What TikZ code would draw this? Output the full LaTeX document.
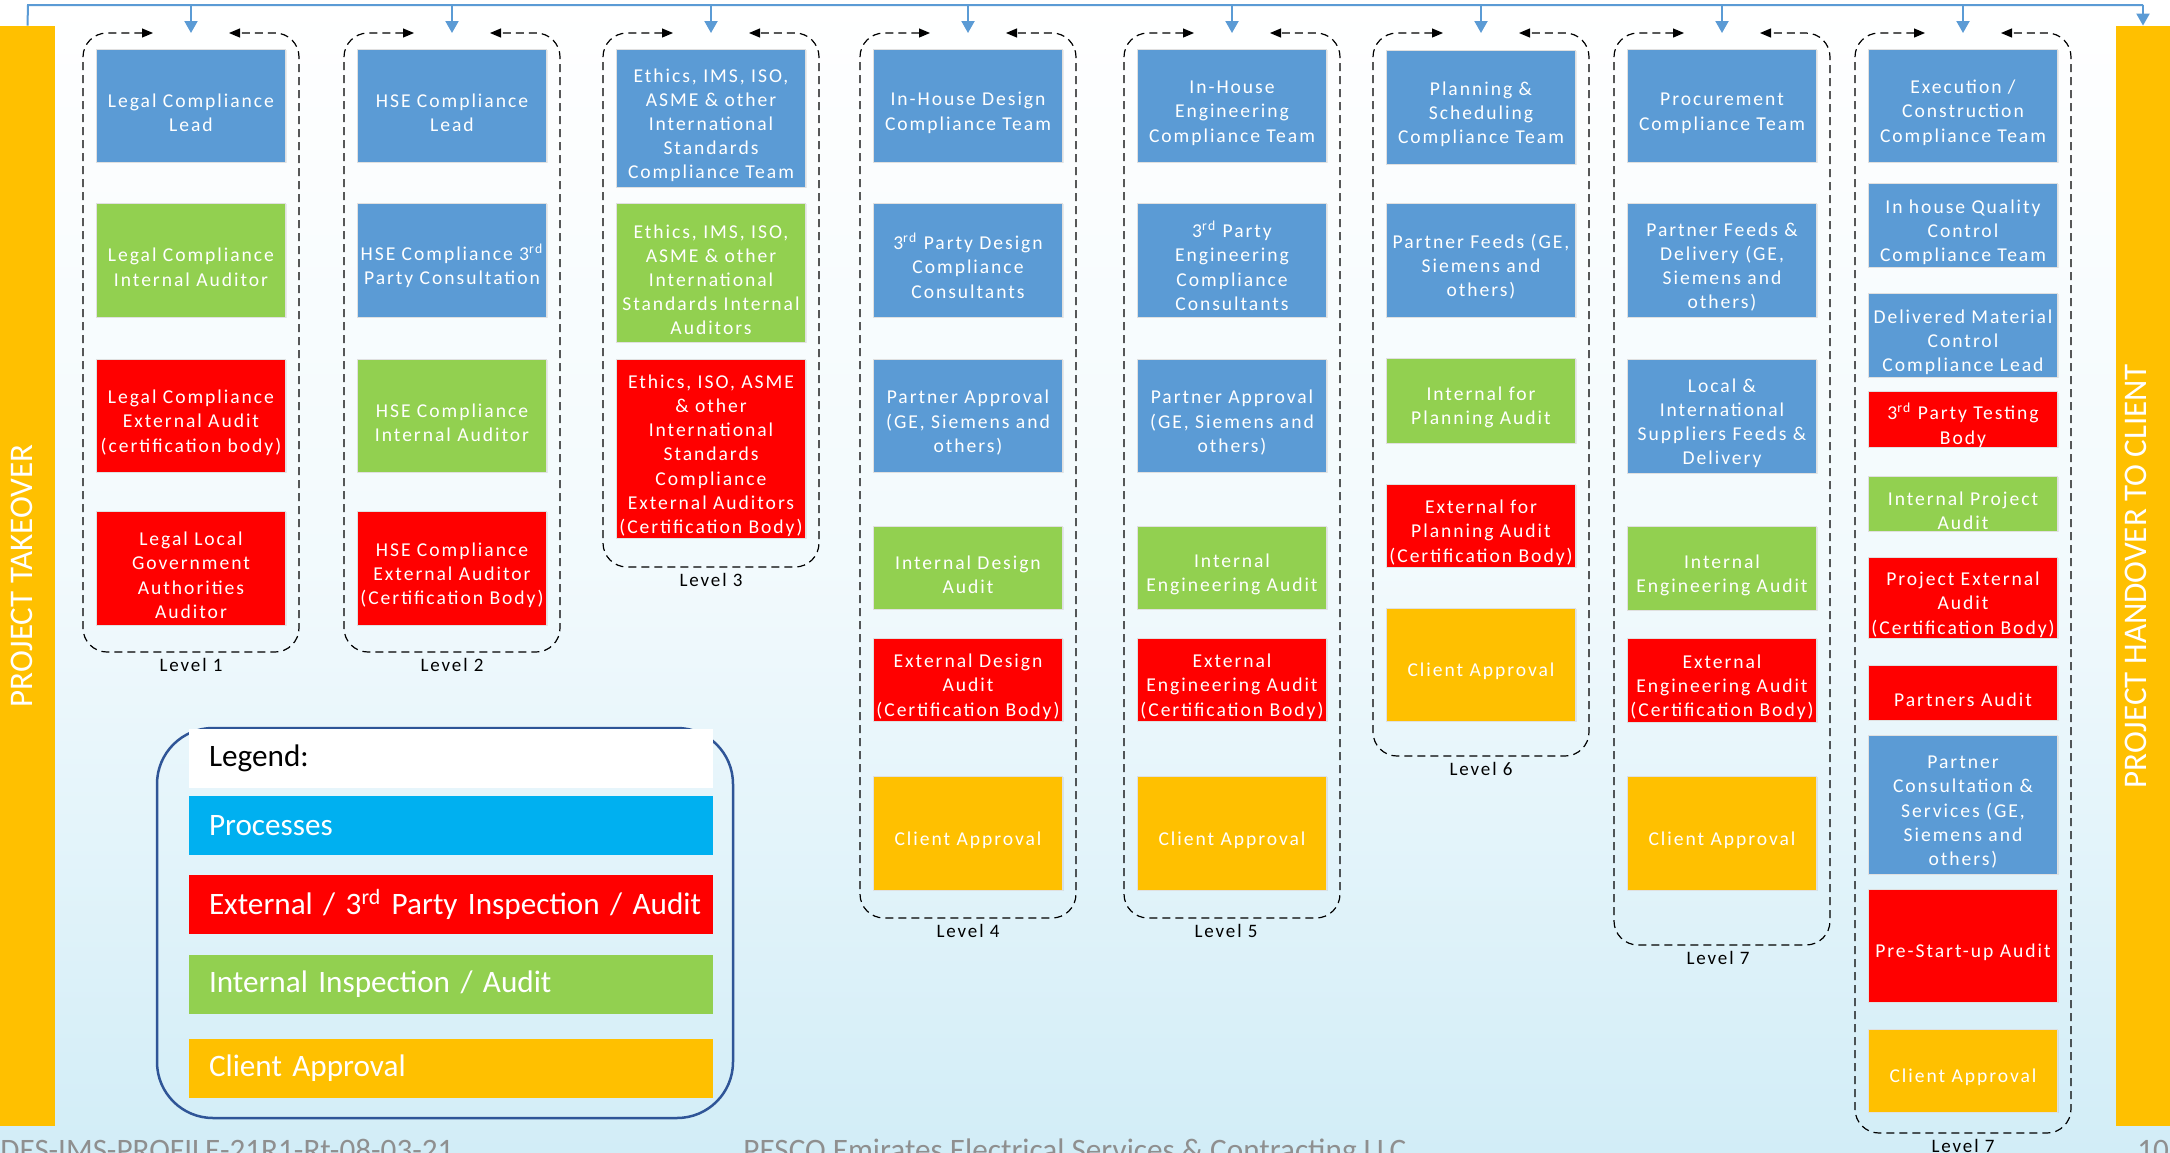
\documentclass[tikz,border=0pt]{standalone}
\usepackage{fontspec}
\setmainfont{Carlito}
\newfontfamily\boxfont[LetterSpace=10]{Carlito}
\usetikzlibrary{arrows.meta, positioning, shadows}

\definecolor{procblue}{HTML}{5B9BD5}
\definecolor{intgreen}{HTML}{92D050}
\definecolor{extred}{HTML}{FF0000}
\definecolor{clientyel}{HTML}{FFC000}
\definecolor{legcyan}{HTML}{00B0F0}
\definecolor{legframe}{HTML}{2F5597}
\definecolor{bgblue}{HTML}{D2EDF7}
\definecolor{footgrey}{HTML}{8F8F8F}

% first line of a box sits a little low, as in the slides
\newcommand{\lowline}{\rule{0pt}{14pt}}

\tikzstyle{task} = [draw=black!12, line width=0.5pt, text=white, align=center, inner sep=0pt, minimum width=94.5pt, font={\boxfont\fontsize{9.8}{12.1}\selectfont}, drop shadow={shadow xshift=0.6pt, shadow yshift=-0.6pt, opacity=0.15}]
\tikzstyle{proc} = [task, fill=procblue]
\tikzstyle{intaud} = [task, fill=intgreen]
\tikzstyle{extaud} = [task, fill=extred]
\tikzstyle{client} = [task, fill=clientyel]
\tikzstyle{frame} = [dash pattern=on 4pt off 2.5pt, line width=0.6pt, rounded corners=12pt, <->, >={Triangle[width=4.5pt,length=5.5pt]}]
\tikzstyle{feed} = [draw=procblue, line width=1pt]
\tikzstyle{feedarrow} = [feed, -{Triangle[width=6.5pt,length=6pt]}]
\tikzstyle{levlabel} = [inner sep=0pt, font={\boxfont\fontsize{9.5}{11.7}\selectfont}]
\tikzstyle{bar} = [fill=clientyel, inner sep=0pt, minimum width=27.5pt, minimum height=550pt]
\tikzstyle{bartext} = [rotate=90, text=white, inner sep=0pt, font={\fontsize{16.5}{19}\selectfont}]
\tikzstyle{legrow} = [text=white, align=left, text width=262pt, inner sep=0pt, minimum height=29.5pt, font={\fontsize{15.6}{18}\selectfont}, execute at begin node={\hspace*{10pt}}]
\tikzstyle{footer} = [text=footgrey, inner sep=0pt, anchor=base west, font={\fontsize{15.6}{18}\selectfont}]

\begin{document}
\begin{tikzpicture}[x=0.5pt, y=-0.5pt]

   % fix the page size
   \useasboundingbox (0,0) rectangle (2170,1152);
   \shade[top color=white, bottom color=bgblue, middle color=white!70!bgblue] (0,0) rectangle (2170,1152);

   % start and end bars
   \node[bar] (takeover) at (27.5,576) {};
   \node[bartext] (takeovertxt) at (22,576) {PROJECT TAKEOVER};
   \node[bar] (handover) at (2143,576) {};
   \node[bartext] (handovertxt) at (2136,576) {PROJECT HANDOVER TO CLIENT};

   % feed line across the top
   \coordinate (busL) at (28,5);
   \coordinate (busR) at (2143,5);
   \draw[feed] (takeover.north) -- (busL) -- (busR);
   \draw[feedarrow] (busR) -- (handover.north);

   % entry points of the levels
   \coordinate (in1) at (191,33);
   \coordinate (in2) at (452,33);
   \coordinate (in3) at (711,33);
   \coordinate (in4) at (968,33);
   \coordinate (in5) at (1232,33);
   \coordinate (in6) at (1481,33);
   \coordinate (in7) at (1722,33);
   \coordinate (in8) at (1963,33);
   \draw[feedarrow] (in1 |- busL) -- (in1);
   \draw[feedarrow] (in2 |- busL) -- (in2);
   \draw[feedarrow] (in3 |- busL) -- (in3);
   \draw[feedarrow] (in4 |- busL) -- (in4);
   \draw[feedarrow] (in5 |- busL) -- (in5);
   \draw[feedarrow] (in6 |- busL) -- (in6);
   \draw[feedarrow] (in7 |- busL) -- (in7);
   \draw[feedarrow] (in8 |- busL) -- (in8);

   % dashed level frames
   \draw[frame] (153,33) -- (83,33) -- (83,652) -- (299,652) -- (299,33) -- (229,33);
   \draw[frame] (414,33) -- (344,33) -- (344,652) -- (560,652) -- (560,33) -- (490,33);
   \draw[frame] (673,33) -- (603,33) -- (603,567) -- (819,567) -- (819,33) -- (749,33);
   \draw[frame] (930,33) -- (860,33) -- (860,918) -- (1076,918) -- (1076,33) -- (1006,33);
   \draw[frame] (1194,33) -- (1124,33) -- (1124,918) -- (1340,918) -- (1340,33) -- (1270,33);
   \draw[frame] (1443,33) -- (1373,33) -- (1373,756) -- (1589,756) -- (1589,33) -- (1519,33);
   \draw[frame] (1684,33) -- (1614,33) -- (1614,945) -- (1830,945) -- (1830,33) -- (1760,33);
   \draw[frame] (1925,33) -- (1855,33) -- (1855,1133) -- (2071,1133) -- (2071,33) -- (2001,33);

   % level names
   \node[levlabel] (lev1) at (191,665) {Level 1};
   \node[levlabel] (lev2) at (452,665) {Level 2};
   \node[levlabel] (lev3) at (711,580) {Level 3};
   \node[levlabel] (lev4) at (968,931) {Level 4};
   \node[levlabel] (lev5) at (1226,931) {Level 5};
   \node[levlabel] (lev6) at (1481,769) {Level 6};
   \node[levlabel] (lev7) at (1718,958) {Level 7};
   \node[levlabel] (lev8) at (1963,1146) {Level 7};

   % Level 1
   \node[proc, minimum height=56.5pt] (l1a) at (191,105.5) {\lowline Legal Compliance\\Lead};
   \node[intaud, minimum height=57pt] (l1b) at (191,260) {\lowline Legal Compliance\\Internal Auditor};
   \node[extaud, minimum height=56.5pt] (l1c) at (191,415.5) {\lowline Legal Compliance\\External Audit\\(certification body)};
   \node[extaud, minimum height=57pt] (l1d) at (191,568) {\lowline Legal Local\\Government\\Authorities\\Auditor};

   % Level 2
   \node[proc, minimum height=56.5pt] (l2a) at (452,105.5) {\lowline HSE Compliance\\Lead};
   \node[proc, minimum height=57pt] (l2b) at (452,260) {\lowline HSE Compliance 3\textsuperscript{rd}\\Party Consultation};
   \node[intaud, minimum height=56.5pt] (l2c) at (452,415.5) {\lowline HSE Compliance\\Internal Auditor};
   \node[extaud, minimum height=57pt] (l2d) at (452,568) {\lowline HSE Compliance\\External Auditor\\(Certification Body)};

   % Level 3
   \node[proc, minimum height=69pt] (l3a) at (711,118) {\lowline Ethics, IMS, ISO,\\ASME \& other\\International\\Standards\\Compliance Team};
   \node[intaud, minimum height=69.5pt] (l3b) at (711,272.5) {\lowline Ethics, IMS, ISO,\\ASME \& other\\International\\Standards Internal\\Auditors};
   \node[extaud, minimum height=89.5pt] (l3c) at (711,448.5) {\lowline Ethics, ISO, ASME\\\& other\\International\\Standards\\Compliance\\External Auditors\\(Certification Body)};

   % Level 4
   \node[proc, minimum height=56.5pt] (l4a) at (968,105.5) {\lowline In-House Design\\Compliance Team};
   \node[proc, minimum height=57pt] (l4b) at (968,260) {\lowline 3\textsuperscript{rd} Party Design\\Compliance\\Consultants};
   \node[proc, minimum height=56.5pt] (l4c) at (968,415.5) {\lowline Partner Approval\\(GE, Siemens and\\others)};
   \node[intaud, minimum height=41.5pt] (l4d) at (968,567.5) {\lowline Internal Design\\Audit};
   \node[extaud, minimum height=41.5pt] (l4e) at (968,679.5) {\lowline External Design\\Audit\\(Certification Body)};
   \node[client, minimum height=57pt] (l4f) at (968,833) {\lowline Client Approval};

   % Level 5
   \node[proc, minimum height=56.5pt] (l5a) at (1232,105.5) {\lowline In-House\\Engineering\\Compliance Team};
   \node[proc, minimum height=57pt] (l5b) at (1232,260) {\lowline 3\textsuperscript{rd} Party\\Engineering\\Compliance\\Consultants};
   \node[proc, minimum height=56.5pt] (l5c) at (1232,415.5) {\lowline Partner Approval\\(GE, Siemens and\\others)};
   \node[intaud, minimum height=41.5pt] (l5d) at (1232,567.5) {\lowline Internal\\Engineering Audit};
   \node[extaud, minimum height=41.5pt] (l5e) at (1232,679.5) {\lowline External\\Engineering Audit\\(Certification Body)};
   \node[client, minimum height=57pt] (l5f) at (1232,833) {\lowline Client Approval};

   % Level 6
   \node[proc, minimum height=57pt] (l6a) at (1481,107) {\lowline Planning \&\\Scheduling\\Compliance Team};
   \node[proc, minimum height=57pt] (l6b) at (1481,260) {\lowline Partner Feeds (GE,\\Siemens and\\others)};
   \node[intaud, minimum height=42.5pt] (l6c) at (1481,400.5) {\lowline Internal for\\Planning Audit};
   \node[extaud, minimum height=41.5pt] (l6d) at (1481,525.5) {\lowline External for\\Planning Audit\\(Certification Body)};
   \node[client, minimum height=56.5pt] (l6e) at (1481,664.5) {\lowline Client Approval};

   % Level 7, procurement
   \node[proc, minimum height=56.5pt] (l7a) at (1722,105.5) {\lowline Procurement\\Compliance Team};
   \node[proc, minimum height=57pt] (l7b) at (1722,260) {\lowline Partner Feeds \&\\Delivery (GE,\\Siemens and\\others)};
   \node[proc, minimum height=57pt] (l7c) at (1722,416) {\lowline Local \&\\International\\Suppliers Feeds \&\\Delivery};
   \node[intaud, minimum height=42pt] (l7d) at (1722,568) {\lowline Internal\\Engineering Audit};
   \node[extaud, minimum height=42pt] (l7e) at (1722,680) {\lowline External\\Engineering Audit\\(Certification Body)};
   \node[client, minimum height=57pt] (l7f) at (1722,833) {\lowline Client Approval};

   % Level 7, execution
   \node[proc, minimum height=56.5pt] (l8a) at (1963,105.5) {\lowline Execution /\\Construction\\Compliance Team};
   \node[proc, minimum height=42pt] (l8b) at (1963,225) {\lowline In house Quality\\Control\\Compliance Team};
   \node[proc, minimum height=42pt] (l8c) at (1963,335) {\lowline Delivered Material\\Control\\Compliance Lead};
   \node[extaud, minimum height=27.5pt] (l8d) at (1963,419.5) {\lowline 3\textsuperscript{rd} Party Testing\\Body};
   \node[intaud, minimum height=27.5pt] (l8e) at (1963,503.5) {\lowline Internal Project\\Audit};
   \node[extaud, minimum height=40.5pt] (l8f) at (1963,597.5) {\lowline Project External\\Audit\\(Certification Body)};
   \node[extaud, minimum height=27.5pt] (l8g) at (1963,692.5) {\lowline Partners Audit};
   \node[proc, minimum height=69.5pt] (l8h) at (1963,804.5) {\lowline Partner\\Consultation \&\\Services (GE,\\Siemens and\\others)};
   \node[extaud, minimum height=56.5pt] (l8i) at (1963,945.5) {\lowline Pre-Start-up Audit};
   \node[client, minimum height=41.5pt] (l8j) at (1963,1070.5) {\lowline Client Approval};

   % legend
   \node[draw=legframe, line width=1.25pt, rounded corners=28pt, minimum width=288pt, minimum height=195pt] (legend) at (445,923) {};
   \node[legrow, fill=white, text=black] (legtitle) at (451,758) {Legend:};
   \node[legrow, fill=legcyan] (legproc) at (451,825.5) {Processes};
   \node[legrow, fill=extred] (legext) at (451,904.5) {External / 3\textsuperscript{rd} Party Inspection / Audit};
   \node[legrow, fill=intgreen] (legint) at (451,984.5) {Internal Inspection / Audit};
   \node[legrow, fill=clientyel] (legcli) at (451,1068.5) {Client Approval};

   % footer, cut by the page edge
   \node[footer] (docref) at (0,1160) {DES-IMS-PROFILE-21R1-Rt-08-03-21};
   \node[footer] (company) at (743,1160) {PESCO Emirates Electrical Services \& Contracting LLC};
   \node[footer] (pageno) at (2137,1160) {10};

\end{tikzpicture}
\end{document}
